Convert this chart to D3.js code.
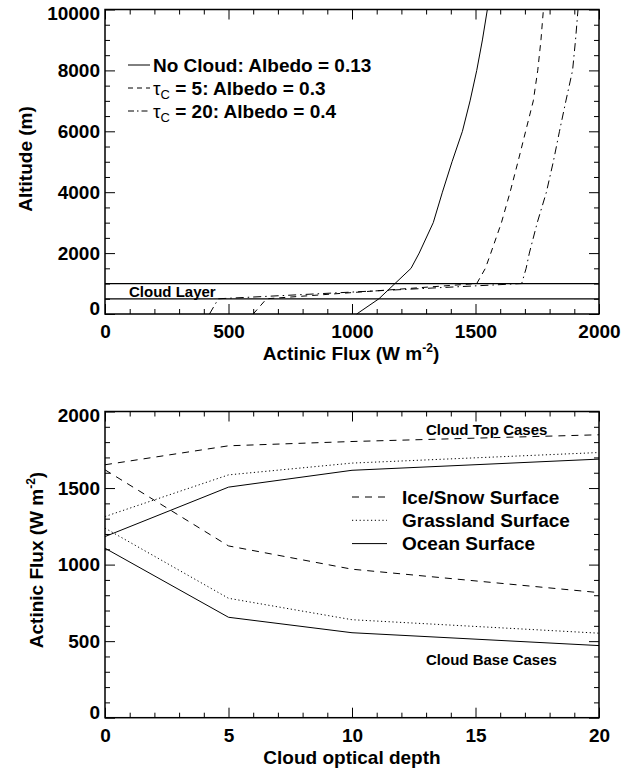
<!DOCTYPE html>
<html lang="en">
<head>
    <meta charset="UTF-8">
    <title>Actinic flux</title>
    <script src="https://cdn.jsdelivr.net/npm/d3@7/dist/d3.min.js"></script>
    <style>
        body {
            margin: 0;
            background: #fff;
        }

        svg text {
            font-family: "Liberation Sans", Arial, Helvetica, sans-serif;
            font-weight: bold;
            fill: #000;
        }
    </style>
</head>
<body>
<svg id="graphDiv" width="636" height="769"></svg>
<script>
    // top panel : altitude profiles
    var altitudes = [0, 500, 1000, 1500, 2000, 3000, 4000, 5000, 6000, 7000, 8000, 9000, 10000];
    var fluxNoCloud = [1019, 1109, 1174, 1239, 1272, 1329, 1366, 1405, 1447, 1478, 1505, 1528, 1548];
    var fluxTau5 = [600, 654, 1505, 1540, 1562, 1605, 1640, 1672, 1703, 1734, 1752, 1765, 1775];
    var fluxTau20 = [423, 459, 1687, 1705, 1718, 1750, 1787, 1815, 1840, 1866, 1893, 1905, 1915];
    var cloudLayer = [500, 1000];
    var topLegend = ["No Cloud: Albedo = 0.13", " = 5: Albedo = 0.3", " = 20: Albedo = 0.4"];

    var fluxTicks = [0, 500, 1000, 1500, 2000];
    var altTicks = [0, 2000, 4000, 6000, 8000, 10000];

    // bottom panel : flux vs optical depth
    var opticalDepth = [0, 5, 10, 20];
    var iceTop = [1652, 1776, 1804, 1848];
    var grassTop = [1314, 1586, 1663, 1732];
    var oceanTop = [1183, 1506, 1616, 1689];
    var iceBase = [1619, 1122, 970, 817];
    var grassBase = [1238, 780, 640, 552];
    var oceanBase = [1107, 656, 555, 471];
    var bottomLegend = ["Ice/Snow Surface", "Grassland Surface", "Ocean Surface"];

    var depthTicks = [0, 5, 10, 15, 20];
    var bottomFluxTicks = [0, 500, 1000, 1500, 2000];

    var svg = d3.select("#graphDiv");

    var dashed = "6,5";
    var dashDot = "8,4,1.5,4";
    var dashLong = "7,6";
    var dotted = "1.2,2.6";

    // box with ticks on all four sides, labels only left and bottom
    function drawFrame(x, y, xMajor, xMinorStep, yMajor, yMinorStep) {
        var x0 = x.range()[0], x1 = x.range()[1];
        var y0 = y.range()[0], y1 = y.range()[1];
        var xd = x.domain(), yd = y.domain();
        var xMinor = d3.range(xd[0], xd[1] + 1e-9, xMinorStep).filter(function (v) {
            return xMajor.indexOf(v) < 0;
        });
        var yMinor = d3.range(yd[0], yd[1] + 1e-9, yMinorStep).filter(function (v) {
            return yMajor.indexOf(v) < 0;
        });
        var fmt = d3.format("d");

        var g = svg.append("g");

        g.append("g").attr("transform", "translate(0," + y0 + ")")
            .call(d3.axisBottom(x).tickValues(xMajor).tickFormat(fmt).tickSizeInner(-10).tickSizeOuter(0).tickPadding(11));
        g.append("g").attr("transform", "translate(0," + y0 + ")")
            .call(d3.axisBottom(x).tickValues(xMinor).tickSizeInner(-5).tickSizeOuter(0).tickFormat(""));
        g.append("g").attr("transform", "translate(0," + y1 + ")")
            .call(d3.axisTop(x).tickValues(xMajor).tickSizeInner(-10).tickSizeOuter(0).tickFormat(""));
        g.append("g").attr("transform", "translate(0," + y1 + ")")
            .call(d3.axisTop(x).tickValues(xMinor).tickSizeInner(-5).tickSizeOuter(0).tickFormat(""));

        var left = g.append("g").attr("transform", "translate(" + x0 + ",0)")
            .call(d3.axisLeft(y).tickValues(yMajor).tickFormat(fmt).tickSizeInner(-10).tickSizeOuter(0).tickPadding(5));
        g.append("g").attr("transform", "translate(" + x0 + ",0)")
            .call(d3.axisLeft(y).tickValues(yMinor).tickSizeInner(-5).tickSizeOuter(0).tickFormat(""));
        g.append("g").attr("transform", "translate(" + x1 + ",0)")
            .call(d3.axisRight(y).tickValues(yMajor).tickSizeInner(-10).tickSizeOuter(0).tickFormat(""));
        g.append("g").attr("transform", "translate(" + x1 + ",0)")
            .call(d3.axisRight(y).tickValues(yMinor).tickSizeInner(-5).tickSizeOuter(0).tickFormat(""));

        g.selectAll(".domain").remove();
        g.selectAll(".tick line").attr("stroke", "#000").attr("stroke-width", 1);
        g.selectAll(".tick text").attr("font-size", 19).attr("font-family", null).attr("fill", "#000");

        // end labels nudged inside like the original
        left.selectAll(".tick text").attr("dy", function (d) {
            if (d == yd[0]) return "0.05em";
            if (d == yd[1]) return "0.55em";
            return "0.32em";
        });

        g.append("rect")
            .attr("x", x0).attr("y", y1)
            .attr("width", x1 - x0).attr("height", y0 - y1)
            .attr("fill", "none").attr("stroke", "#000").attr("stroke-width", 1.5);
        return g;
    }

    function drawCurve(xs, ys, x, y, dash, width) {
        var pts = xs.map(function (v, i) {
            return [v, ys[i]];
        });
        var line = d3.line()
            .x(function (d) { return x(d[0]); })
            .y(function (d) { return y(d[1]); });
        svg.append("path")
            .datum(pts)
            .attr("d", line)
            .attr("fill", "none")
            .attr("stroke", "#000")
            .attr("stroke-width", width || 1)
            .attr("stroke-dasharray", dash);
    }

    // ---------------- top panel
    var xTop = d3.scaleLinear().domain([0, 2000]).range([105, 599]);
    var yTop = d3.scaleLinear().domain([0, 10000]).range([314, 9.5]);

    drawCurve(fluxNoCloud, altitudes, xTop, yTop, null);
    drawCurve(fluxTau5, altitudes, xTop, yTop, dashed);
    drawCurve(fluxTau20, altitudes, xTop, yTop, dashDot);

    svg.selectAll("line.cloud")
        .data(cloudLayer).enter().append("line")
        .attr("class", "cloud")
        .attr("x1", xTop(0)).attr("x2", xTop(2000))
        .attr("y1", function (d) { return yTop(d); })
        .attr("y2", function (d) { return yTop(d); })
        .attr("stroke", "#000").attr("stroke-width", 1.2);

    svg.append("text").attr("x", 129).attr("y", 296.5).attr("font-size", 15).text("Cloud Layer");

    drawFrame(xTop, yTop, fluxTicks, 100, altTicks, 500);

    var topStyles = [null, "5,4", "6,3,1.5,3"];
    topLegend.forEach(function (label, i) {
        var base = 71.5 + i * 23;
        svg.append("line")
            .attr("x1", 128).attr("x2", 150)
            .attr("y1", base - 6.5).attr("y2", base - 6.5)
            .attr("stroke", "#000").attr("stroke-width", 1)
            .attr("stroke-dasharray", topStyles[i]);
        var t = svg.append("text").attr("x", 153).attr("y", base).attr("font-size", 19);
        if (i == 0) {
            t.text(label);
        } else {
            t.append("tspan").attr("font-weight", "normal").text("\u03c4");
            t.append("tspan").attr("font-size", 13).attr("font-weight", "normal").attr("dy", 4).text("C");
            t.append("tspan").attr("dy", -4).text(label);
        }
    });

    var xTitleTop = svg.append("text").attr("x", 351).attr("y", 360).attr("text-anchor", "middle").attr("font-size", 19);
    xTitleTop.append("tspan").text("Actinic Flux (W m");
    xTitleTop.append("tspan").attr("font-size", 12).attr("dy", -8).text("-2");
    xTitleTop.append("tspan").attr("dy", 8).text(")");

    svg.append("text")
        .attr("transform", "translate(31.5,159) rotate(-90)")
        .attr("text-anchor", "middle").attr("font-size", 19)
        .text("Altitude (m)");

    // ---------------- bottom panel
    var xBot = d3.scaleLinear().domain([0, 20]).range([105, 599]);
    var yBot = d3.scaleLinear().domain([0, 2000]).range([717.7, 411.5]);

    drawCurve(opticalDepth, iceTop, xBot, yBot, dashLong);
    drawCurve(opticalDepth, grassTop, xBot, yBot, dotted);
    drawCurve(opticalDepth, oceanTop, xBot, yBot, null);
    drawCurve(opticalDepth, iceBase, xBot, yBot, dashLong);
    drawCurve(opticalDepth, grassBase, xBot, yBot, dotted);
    drawCurve(opticalDepth, oceanBase, xBot, yBot, null);

    drawFrame(xBot, yBot, depthTicks, 1, bottomFluxTicks, 100);

    svg.append("text").attr("x", 426).attr("y", 434.5).attr("font-size", 15).text("Cloud Top Cases");
    svg.append("text").attr("x", 426).attr("y", 665).attr("font-size", 15).text("Cloud Base Cases");

    var botStyles = [dashLong, dotted, null];
    bottomLegend.forEach(function (label, i) {
        var base = 503.5 + i * 23.3;
        svg.append("line")
            .attr("x1", 352).attr("x2", 387)
            .attr("y1", base - 6.5).attr("y2", base - 6.5)
            .attr("stroke", "#000").attr("stroke-width", 1)
            .attr("stroke-dasharray", botStyles[i]);
        svg.append("text").attr("x", 402).attr("y", base).attr("font-size", 19).text(label);
    });

    svg.append("text").attr("x", 352).attr("y", 764).attr("text-anchor", "middle").attr("font-size", 19)
        .text("Cloud optical depth");

    var yTitleBot = svg.append("text")
        .attr("transform", "translate(43,560) rotate(-90)")
        .attr("text-anchor", "middle").attr("font-size", 19);
    yTitleBot.append("tspan").text("Actinic Flux (W m");
    yTitleBot.append("tspan").attr("font-size", 12).attr("dy", -8).text("-2");
    yTitleBot.append("tspan").attr("dy", 8).text(")");
</script>
</body>
</html>
